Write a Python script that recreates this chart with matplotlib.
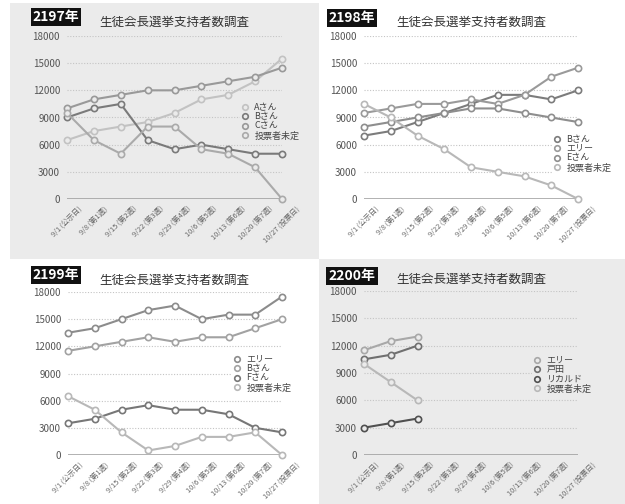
import matplotlib
matplotlib.use("Agg")
import matplotlib.pyplot as plt
from matplotlib.patches import Rectangle

plt.rcParams["font.family"] = ["Noto Sans CJK JP", "DejaVu Sans"]

W, H = 625, 504

dates = [
    "9/1 (公示日)", "9/8 (第1週)", "9/15 (第2週)", "9/22 (第3週)", "9/29 (第4週)",
    "10/6 (第5週)", "10/13 (第6週)", "10/20 (第7週)", "10/27 (投票日)",
]
y_ticks = [0, 3000, 6000, 9000, 12000, 15000, 18000]
title = "生徒会長選挙支持者数調査"

# 2197
names_2197 = ["Aさん", "Bさん", "Cさん", "投票者未定"]
a_2197 = [6500, 7500, 8000, 8500, 9500, 11000, 11500, 13000, 15500]
b_2197 = [9000, 10000, 10500, 6500, 5500, 6000, 5500, 5000, 5000]
c_2197 = [10000, 11000, 11500, 12000, 12000, 12500, 13000, 13500, 14500]
u_2197 = [9500, 6500, 5000, 8000, 8000, 5500, 5000, 3500, 0]

# 2198
names_2198 = ["Bさん", "エリー", "Eさん", "投票者未定"]
b_2198 = [7000, 7500, 8500, 9500, 10500, 11500, 11500, 11000, 12000]
elly_2198 = [9500, 10000, 10500, 10500, 11000, 10500, 11500, 13500, 14500]
e_2198 = [8000, 8500, 9000, 9500, 10000, 10000, 9500, 9000, 8500]
u_2198 = [10500, 9000, 7000, 5500, 3500, 3000, 2500, 1500, 0]

# 2199
names_2199 = ["エリー", "Bさん", "Fさん", "投票者未定"]
elly_2199 = [13500, 14000, 15000, 16000, 16500, 15000, 15500, 15500, 17500]
b_2199 = [11500, 12000, 12500, 13000, 12500, 13000, 13000, 14000, 15000]
f_2199 = [3500, 4000, 5000, 5500, 5000, 5000, 4500, 3000, 2500]
u_2199 = [6500, 5000, 2500, 500, 1000, 2000, 2000, 2500, 0]

# 2200 (only first three weeks)
names_2200 = ["エリー", "戸田", "リカルド", "投票者未定"]
elly_2200 = [11500, 12500, 13000]
toda_2200 = [10500, 11000, 12000]
ricardo_2200 = [3000, 3500, 4000]
u_2200 = [10000, 8000, 6000]

GRAY_BG = "#ebebeb"
WHITE_BG = "#ffffff"


def fx(px):
    return px / W


def fy(py):
    return 1 - py / H


def draw_panel(fig, box, year, badge_xy, title_xy, series, names, colors, bg, legend_xy):
    left, top, right, bottom = box
    ax = fig.add_axes([fx(left), fy(bottom), fx(right - left), fy(top) - fy(bottom)])
    ax.set_facecolor("none")
    for s in ax.spines.values():
        s.set_visible(False)

    ax.set_xlim(0, 8)
    ax.set_ylim(0, 18000)
    ax.set_yticks(y_ticks)
    ax.set_yticklabels([str(v) for v in y_ticks], fontsize=7, color="#555555")
    ax.set_xticks(range(len(dates)))
    ax.set_xticklabels(dates, rotation=45, ha="center", fontsize=5.3, color="#666666")
    ax.tick_params(length=0)
    ax.tick_params(axis="y", pad=5)
    ax.tick_params(axis="x", pad=4)

    for v in y_ticks[1:]:
        ax.axhline(v, color="#c4c4c4", lw=0.8, ls=(0, (1, 1.5)), zorder=0)
    ax.axhline(0, color="#9a9a9a", lw=1.8, zorder=1)

    for vals, name, col in zip(series, names, colors):
        ax.plot(range(len(vals)), vals, color=col, lw=1.5, marker="o", ms=4.5,
                mfc=bg, mec=col, mew=1.2, label=name, clip_on=False, zorder=3)

    handles = [
        plt.Line2D([], [], ls="none", marker="o", ms=4, mfc=bg, mec=c, mew=1.2)
        for c in colors
    ]
    leg = ax.legend(handles, names, loc="upper left",
                    bbox_to_anchor=(fx(legend_xy[0]), fy(legend_xy[1])),
                    bbox_transform=fig.transFigure, fontsize=6.5, frameon=True,
                    facecolor=bg, edgecolor="none", framealpha=1,
                    handlelength=0.8, handletextpad=0.6, labelspacing=0.05,
                    borderpad=0.2, borderaxespad=0)
    for t in leg.get_texts():
        t.set_color("#444444")
    leg.set_zorder(4)

    fig.text(fx(badge_xy[0]), fy(badge_xy[1]), year, ha="center", va="center",
             fontsize=10, fontweight="bold", color="white",
             bbox=dict(boxstyle="square,pad=0.15", fc="#111111", ec="none"))
    fig.text(fx(title_xy[0]), fy(title_xy[1]), title, ha="center", va="center",
             fontsize=9, color="#333333")
    return ax


fig = plt.figure(figsize=(W / 100, H / 100), dpi=100)
fig.patch.set_facecolor("white")
fig.patches.append(Rectangle((fx(10), fy(259)), fx(319 - 10), fy(3) - fy(259),
                             transform=fig.transFigure, fc=GRAY_BG, ec="none", zorder=-10))
fig.patches.append(Rectangle((fx(319), 0), fx(W - 319), fy(259),
                             transform=fig.transFigure, fc=GRAY_BG, ec="none", zorder=-10))

draw_panel(fig, (67, 36, 282, 199), "2197年", (56, 17), (174, 22),
           [a_2197, b_2197, c_2197, u_2197], names_2197,
           ["#c2c2c2", "#7a7a7a", "#999999", "#aaaaaa"], GRAY_BG, (240, 101))

draw_panel(fig, (364, 36, 578, 199), "2198年", (352, 18), (471, 22),
           [b_2198, elly_2198, e_2198, u_2198], names_2198,
           ["#7c7c7c", "#9a9a9a", "#8e8e8e", "#b8b8b8"], WHITE_BG, (552, 133))

draw_panel(fig, (68, 292, 282, 455), "2199年", (56, 275), (174, 280),
           [elly_2199, b_2199, f_2199, u_2199], names_2199,
           ["#8c8c8c", "#a2a2a2", "#777777", "#b8b8b8"], WHITE_BG, (232, 353))

draw_panel(fig, (364, 291, 578, 455), "2200年", (352, 276), (471, 279),
           [elly_2200, toda_2200, ricardo_2200, u_2200], names_2200,
           ["#a8a8a8", "#707070", "#505050", "#b8b8b8"], GRAY_BG, (532, 354))

fig.savefig("out.png", dpi=100, facecolor=fig.get_facecolor())
